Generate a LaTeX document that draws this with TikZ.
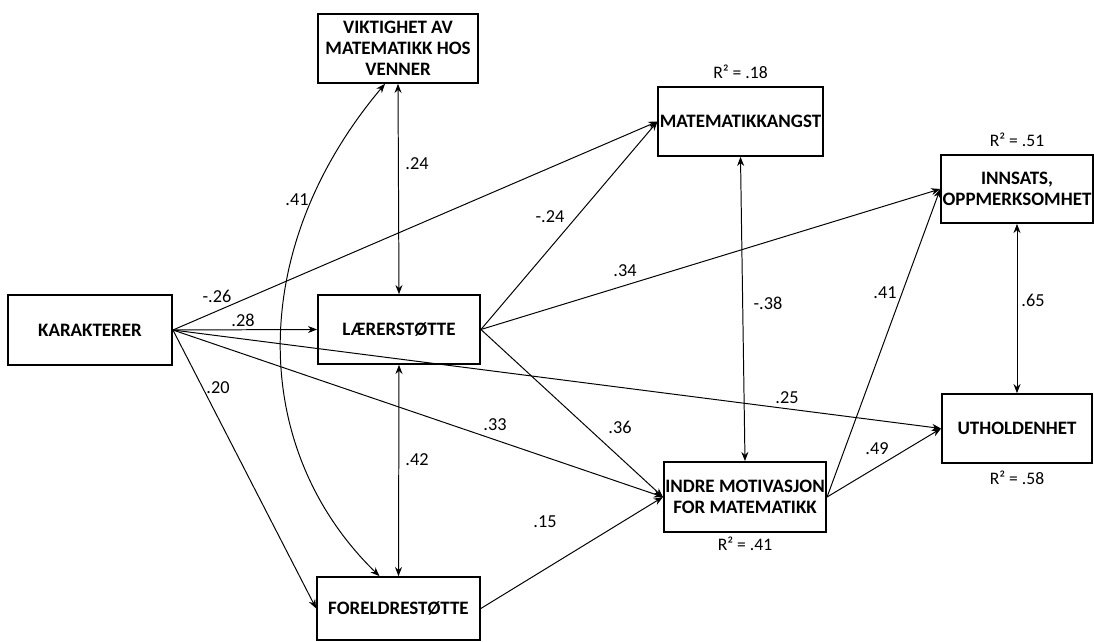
\documentclass[tikz,border=0pt]{standalone}
\usepackage{fontspec}
\setmainfont{Carlito}
\usepackage{tikz}
\usetikzlibrary{calc}
\usetikzlibrary{positioning}
\usetikzlibrary{arrows.meta}

\tikzset{
  var/.style={draw,line width=1.3pt,font=\fontsize{13.5}{15}\selectfont\bfseries,align=center,inner sep=1pt},
  coef/.style={font=\fontsize{13}{15}\selectfont,inner sep=1pt},
  rsq/.style={font=\fontsize{12.5}{14}\selectfont,inner sep=1pt},
  path/.style={line width=0.7pt,-{Stealth[length=6.5pt,width=5pt]}},
  corr/.style={line width=0.7pt,{Stealth[length=6.5pt,width=5pt]}-{Stealth[length=6.5pt,width=5pt]}}
}

\begin{document}
\begin{tikzpicture}[x=0.025cm,y=-0.025cm]
\useasboundingbox (0,0) rectangle (1094,642);

\node[var,minimum width=4cm,minimum height=1.72cm] (venner) at (398,48.5) {VIKTIGHET AV\\MATEMATIKK HOS\\VENNER};
\node[var,minimum width=4.1cm,minimum height=1.75cm] (kar) at (90,330) {KARAKTERER};
\node[var,minimum width=4.05cm,minimum height=1.72cm] (laerer) at (399,329.5) {LÆRERSTØTTE};
\node[var,minimum width=4.07cm,minimum height=1.57cm] (foreldre) at (398.5,608.5) {FORELDRESTØTTE};
\node[var,minimum width=4.07cm,minimum height=1.72cm] (angst) at (740.5,121.5) {MATEMATIKKANGST};
\node[var,minimum width=4.05cm,minimum height=1.75cm] (indre) at (745,497) {INDRE MOTIVASJON\\FOR MATEMATIKK};
\node[var,minimum width=3.75cm,minimum height=1.7cm] (innsats) at (1017,189) {INNSATS,\\OPPMERKSOMHET};
\node[var,minimum width=3.75cm,minimum height=1.72cm] (uthold) at (1017,428.5) {UTHOLDENHET};

\node[rsq,above=4pt of angst] (r1) {R² = .18};
\node[rsq,above=4pt of innsats] (r2) {R² = .51};
\node[rsq,below=4pt of uthold] (r3) {R² = .58};
\node[rsq,below=2pt of indre] (r4) {R² = .41};

\draw[path] (kar.east) -- (laerer.west);
\draw[path] (kar.east) -- (angst.west);
\draw[path] (kar.east) -- (foreldre.west);
\draw[path] (kar.east) -- (indre.west);
\draw[path] (kar.east) -- (uthold.west);
\draw[path] (laerer.east) -- (angst.west);
\draw[path] (laerer.east) -- (innsats.west);
\draw[path] (laerer.east) -- (indre.west);
\draw[path] (foreldre.east) -- (indre.west);
\draw[path] (indre.east) -- (uthold.west);
\draw[path] (indre.east) -- (innsats.west);

\draw[corr] (venner.south) -- (laerer.north);
\draw[corr] (laerer.south) -- (foreldre.north);
\draw[corr] (angst.south) -- (indre.north);
\draw[corr] (innsats.south) -- (uthold.north);

\coordinate (a) at ($(venner.south)+(-13,0)$);
\coordinate (b) at ($(foreldre.north)+(-19,0)$);
\draw[corr] (a) .. controls (245,250) and (250,450) .. (b);

\node[coef] at (217,296) {-.26};
\node[coef] at (243,320) {.28};
\node[coef] at (218,388) {.20};
\node[coef] at (297,200) {.41};
\node[coef] at (417,164) {.24};
\node[coef] at (417,460) {.42};
\node[coef] at (550,217) {-.24};
\node[coef] at (625,271) {.34};
\node[coef] at (495,425) {.33};
\node[coef] at (620,427) {.36};
\node[coef] at (545,522) {.15};
\node[coef] at (768,303) {-.38};
\node[coef] at (787,398) {.25};
\node[coef] at (885,293) {.41};
\node[coef] at (877,449) {.49};
\node[coef] at (1033,300) {.65};

\end{tikzpicture}
\end{document}
